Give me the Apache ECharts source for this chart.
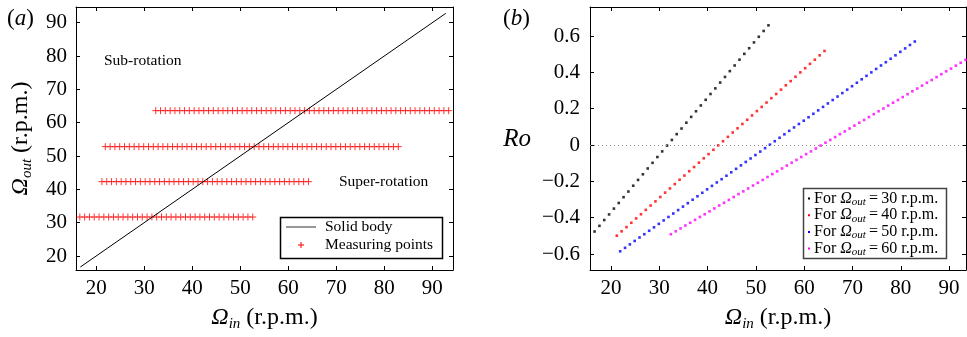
<!DOCTYPE html>
<html lang="en">
<head>
    <meta charset="UTF-8">
    <title></title>
    <style type="text/css">
        html,body{margin:0;padding:0;background:#fff;}
        #main{width:967px;height:337px;}
    </style>
</head>
<body>
<div id="main"></div>
<script src="https://cdn.jsdelivr.net/npm/echarts@6/dist/echarts.min.js"></script>
<script>
    // tick labels
    var inTicks  = [20, 30, 40, 50, 60, 70, 80, 90];
    var outTicks = [20, 30, 40, 50, 60, 70, 80, 90];
    var roTicks  = [-0.6, -0.4, -0.2, 0, 0.2, 0.4, 0.6];

    // solid body line (a)
    var bodyIn  = [16.7, 92.8];
    var bodyOut = [16.7, 92.8];

    // outer rotation rate for each measuring row
    var outLevels = [31.7, 42.3, 52.8, 63.6];
    var legendNames = ['30', '40', '50', '60'];

    // inner rotation rate of the measuring points, one list per row
    var in30 = [16.6,17.6,18.6,19.6,20.6,21.6,22.6,23.6,24.6,25.6,26.6,27.6,28.6,29.6,30.6,31.6,32.6,33.6,34.6,35.6,
                36.6,37.6,38.6,39.6,40.6,41.6,42.6,43.6,44.6,45.6,46.6,47.6,48.6,49.6,50.6,51.6,52.6];
    var in40 = [21.2,22.2,23.2,24.2,25.2,26.2,27.2,28.2,29.2,30.2,31.2,32.2,33.2,34.2,35.2,36.2,37.2,38.2,39.2,40.2,
                41.2,42.2,43.2,44.2,45.2,46.2,47.2,48.2,49.2,50.2,51.2,52.2,53.2,54.2,55.2,56.2,57.2,58.2,59.2,60.2,
                61.2,62.2,63.2,64.2];
    var in50 = [21.9,22.9,23.9,24.9,25.9,26.9,27.9,28.9,29.9,30.9,31.9,32.9,33.9,34.9,35.9,36.9,37.9,38.9,39.9,40.9,
                41.9,42.9,43.9,44.9,45.9,46.9,47.9,48.9,49.9,50.9,51.9,52.9,53.9,54.9,55.9,56.9,57.9,58.9,59.9,60.9,
                61.9,62.9,63.9,64.9,65.9,66.9,67.9,68.9,69.9,70.9,71.9,72.9,73.9,74.9,75.9,76.9,77.9,78.9,79.9,80.9,
                81.9,82.9];
    var in60 = [32.4,33.4,34.4,35.4,36.4,37.4,38.4,39.4,40.4,41.4,42.4,43.4,44.4,45.4,46.4,47.4,48.4,49.4,50.4,51.4,
                52.4,53.4,54.4,55.4,56.4,57.4,58.4,59.4,60.4,61.4,62.4,63.4,64.4,65.4,66.4,67.4,68.4,69.4,70.4,71.4,
                72.4,73.4,74.4,75.4,76.4,77.4,78.4,79.4,80.4,81.4,82.4,83.4,84.4,85.4,86.4,87.4,88.4,89.4,90.4,91.4,
                92.4,93.4];

    // Rossby number read for each row (b)
    var ro30 = [-0.476,-0.445,-0.413,-0.382,-0.350,-0.319,-0.287,-0.256,-0.224,-0.192,-0.161,-0.129,-0.098,-0.066,-0.035,
                -0.003,0.028,0.060,0.091,0.123,0.155,0.186,0.218,0.249,0.281,0.312,0.344,0.375,0.407,0.438,0.470,0.502,
                0.533,0.565,0.596,0.628,0.659];
    var ro40 = [-0.499,-0.475,-0.452,-0.428,-0.404,-0.381,-0.357,-0.333,-0.310,-0.286,-0.262,-0.239,-0.215,-0.191,-0.168,
                -0.144,-0.121,-0.097,-0.073,-0.050,-0.026,-0.002,0.021,0.045,0.069,0.092,0.116,0.139,0.163,0.187,0.210,
                0.234,0.258,0.281,0.305,0.329,0.352,0.376,0.400,0.423,0.447,0.470,0.494,0.518];
    var ro50 = [-0.585,-0.566,-0.547,-0.528,-0.509,-0.491,-0.472,-0.453,-0.434,-0.415,-0.396,-0.377,-0.358,-0.339,-0.320,
                -0.301,-0.282,-0.263,-0.244,-0.225,-0.206,-0.188,-0.169,-0.150,-0.131,-0.112,-0.093,-0.074,-0.055,-0.036,
                -0.017,0.002,0.021,0.040,0.059,0.078,0.097,0.116,0.134,0.153,0.172,0.191,0.210,0.229,0.248,0.267,0.286,
                0.305,0.324,0.343,0.362,0.381,0.400,0.419,0.438,0.456,0.475,0.494,0.513,0.532,0.551,0.570];
    var ro60 = [-0.491,-0.475,-0.459,-0.443,-0.428,-0.412,-0.396,-0.381,-0.365,-0.349,-0.333,-0.318,-0.302,-0.286,-0.270,
                -0.255,-0.239,-0.223,-0.208,-0.192,-0.176,-0.160,-0.145,-0.129,-0.113,-0.097,-0.082,-0.066,-0.050,-0.035,
                -0.019,-0.003,0.013,0.028,0.044,0.060,0.075,0.091,0.107,0.123,0.138,0.154,0.170,0.186,0.201,0.217,0.233,
                0.248,0.264,0.280,0.296,0.311,0.327,0.343,0.358,0.374,0.390,0.406,0.421,0.437,0.453,0.469];

    var inRows = [in30, in40, in50, in60];
    var roRows = [ro30, ro40, ro50, ro60];
    var dotColors = ['#000000', '#ff0000', '#0000ff', '#ff00ff'];

    var FONT = "'Liberation Serif', 'DejaVu Serif', serif";
    var myChart = echarts.init(document.getElementById('main'), null, {renderer: 'canvas'});

    function nameRich(size) {
        return {
            o: {fontFamily: FONT, fontStyle: 'italic', fontSize: size, lineHeight: 28, color: '#000'},
            s: {fontFamily: FONT, fontStyle: 'italic', fontSize: Math.round(size * 0.62), lineHeight: 17, verticalAlign: 'bottom', color: '#000'},
            n: {fontFamily: FONT, fontSize: size, lineHeight: 28, color: '#000'}
        };
    }

    function roLabel(v) {
        if (Math.abs(v) < 1e-9) return '0';
        return (v < 0 ? '\u2212' : '') + Math.abs(v).toFixed(1);
    }

    function valAxis(o) {
        var ax = {
            type: 'value',
            gridIndex: o.grid,
            min: o.min,
            max: o.max,
            position: o.position,
            axisLine: {show: true, onZero: false, lineStyle: {color: '#000', width: 1}},
            axisTick: {show: true, inside: true, length: 4, customValues: o.ticks, lineStyle: {color: '#000'}},
            axisLabel: {show: !!o.label, customValues: o.ticks, fontFamily: FONT, fontSize: 21, color: '#000',
                        margin: o.margin || 8, formatter: o.formatter},
            splitLine: {show: false}
        };
        if (o.name) {
            ax.name = o.name;
            ax.nameLocation = 'middle';
            ax.nameGap = o.nameGap;
            ax.nameRotate = o.nameRotate;
            ax.nameTextStyle = {fontFamily: FONT, fontSize: 24, color: '#000', rich: nameRich(24)};
        }
        return ax;
    }

    var xAxes = [
        valAxis({grid: 0, min: 15.8, max: 94.3, position: 'bottom', ticks: inTicks, label: true, margin: 8,
                 name: '{o|\u03A9}{s|in}{n| (r.p.m.)}', nameGap: 34}),
        valAxis({grid: 0, min: 15.8, max: 94.3, position: 'top', ticks: inTicks}),
        valAxis({grid: 1, min: 15.65, max: 93.5, position: 'bottom', ticks: inTicks, label: true, margin: 8,
                 name: '{o|\u03A9}{s|in}{n| (r.p.m.)}', nameGap: 34}),
        valAxis({grid: 1, min: 15.65, max: 93.5, position: 'top', ticks: inTicks})
    ];
    var yAxes = [
        valAxis({grid: 0, min: 15.8, max: 94.7, position: 'left', ticks: outTicks, label: true, margin: 9,
                 name: '{o|\u03A9}{s|out}{n| (r.p.m.)}', nameGap: 41, nameRotate: 90}),
        valAxis({grid: 0, min: 15.8, max: 94.7, position: 'right', ticks: outTicks}),
        valAxis({grid: 1, min: -0.688, max: 0.76, position: 'left', ticks: roTicks, label: true, margin: 10,
                 formatter: roLabel}),
        valAxis({grid: 1, min: -0.688, max: 0.76, position: 'right', ticks: roTicks})
    ];

    var series = [];
    series.push({
        name: 'Solid body',
        type: 'line',
        xAxisIndex: 0, yAxisIndex: 0,
        symbol: 'none',
        silent: true,
        lineStyle: {color: '#000', width: 1},
        data: bodyIn.map(function (v, i) { return [v, bodyOut[i]]; })
    });
    inRows.forEach(function (row, r) {
        series.push({
            name: 'Measuring points',
            type: 'scatter',
            xAxisIndex: 0, yAxisIndex: 0,
            symbol: 'path://M5,0L5,10M0,5L10,5',
            symbolSize: 7,
            silent: true,
            itemStyle: {color: 'rgba(0,0,0,0)', borderColor: '#ff0000', borderWidth: 1},
            data: row.map(function (v) { return [v, outLevels[r]]; })
        });
    });
    inRows.forEach(function (row, r) {
        var s = {
            name: 'For ' + legendNames[r],
            type: 'scatter',
            xAxisIndex: 2, yAxisIndex: 2,
            symbol: 'rect',
            symbolSize: 2.6,
            silent: true,
            itemStyle: {color: dotColors[r]},
            data: row.map(function (v, i) { return [v, roRows[r][i]]; })
        };
        if (r === 0) {
            s.markLine = {
                silent: true,
                symbol: 'none',
                label: {show: false},
                lineStyle: {color: '#888', type: [1, 3], width: 1},
                data: [{yAxis: 0}]
            };
        }
        series.push(s);
    });

    function legendText(t, size) {
        return {
            fontFamily: FONT, fontSize: size, fill: '#000', text: t,
            verticalAlign: 'middle',
            rich: {
                n: {fontFamily: FONT, fontSize: size, lineHeight: 18, color: '#000'},
                o: {fontFamily: FONT, fontStyle: 'italic', fontSize: size, lineHeight: 18, color: '#000'},
                s: {fontFamily: FONT, fontStyle: 'italic', fontSize: 11, lineHeight: 12, verticalAlign: 'bottom', color: '#000'}
            }
        };
    }

    function panelTag(letter) {
        return {
            text: '{n|(}{i|' + letter + '}{n|)}',
            fontFamily: FONT, fontSize: 23, fill: '#000',
            rich: {
                n: {fontFamily: FONT, fontSize: 23, color: '#000'},
                i: {fontFamily: FONT, fontStyle: 'italic', fontSize: 23, color: '#000'}
            }
        };
    }

    var graphic = [
        {type: 'text', left: 7, top: 7, style: panelTag('a')},
        {type: 'text', left: 503, top: 7, style: panelTag('b')},
        {type: 'text', x: 104, y: 61, style: {text: 'Sub-rotation', fontFamily: FONT, fontSize: 15.5, fill: '#000', verticalAlign: 'middle'}},
        {type: 'text', x: 339, y: 182, style: {text: 'Super-rotation', fontFamily: FONT, fontSize: 15.5, fill: '#000', verticalAlign: 'middle'}},
        {type: 'text', x: 531, y: 139, style: {text: 'Ro', fontFamily: FONT, fontStyle: 'italic', fontSize: 25, fill: '#000', align: 'right', verticalAlign: 'middle'}},
        // legend (a)
        {type: 'rect', shape: {x: 280.5, y: 217.5, width: 162, height: 41}, style: {fill: '#fff', stroke: '#000', lineWidth: 1.5}, z: 100},
        {type: 'line', shape: {x1: 286, y1: 227, x2: 316, y2: 227}, style: {stroke: '#333', lineWidth: 1}, z: 101},
        {type: 'text', x: 325, y: 227, style: legendText('Solid body', 15.5), z: 101},
        {type: 'line', shape: {x1: 301, y1: 242, x2: 301, y2: 248}, style: {stroke: '#ff0000', lineWidth: 1}, z: 101},
        {type: 'line', shape: {x1: 298, y1: 245, x2: 304, y2: 245}, style: {stroke: '#ff0000', lineWidth: 1}, z: 101},
        {type: 'text', x: 325, y: 245, style: legendText('Measuring points', 15.5), z: 101},
        // legend (b)
        {type: 'rect', shape: {x: 803.5, y: 188.5, width: 143, height: 70}, style: {fill: '#fff', stroke: '#444', lineWidth: 1.5}, z: 100}
    ];
    legendNames.forEach(function (n, r) {
        var y = 198.5 + r * 16.7;
        graphic.push({type: 'rect', shape: {x: 808, y: y - 1, width: 2, height: 2}, style: {fill: dotColors[r]}, z: 101});
        graphic.push({type: 'text', x: 814, y: y, style: legendText('{n|For }{o|\u03A9}{s|out}{n|\u2009=\u2009' + n + ' r.p.m.}', 16), z: 101});
    });

    var option = {
        backgroundColor: '#fff',
        animation: false,
        grid: [
            {left: 76, right: 514, top: 7, bottom: 67},
            {left: 590, right: 1, top: 7, bottom: 67}
        ],
        xAxis: xAxes,
        yAxis: yAxes,
        series: series,
        graphic: graphic
    };

    myChart.setOption(option);
</script>
</body>
</html>
